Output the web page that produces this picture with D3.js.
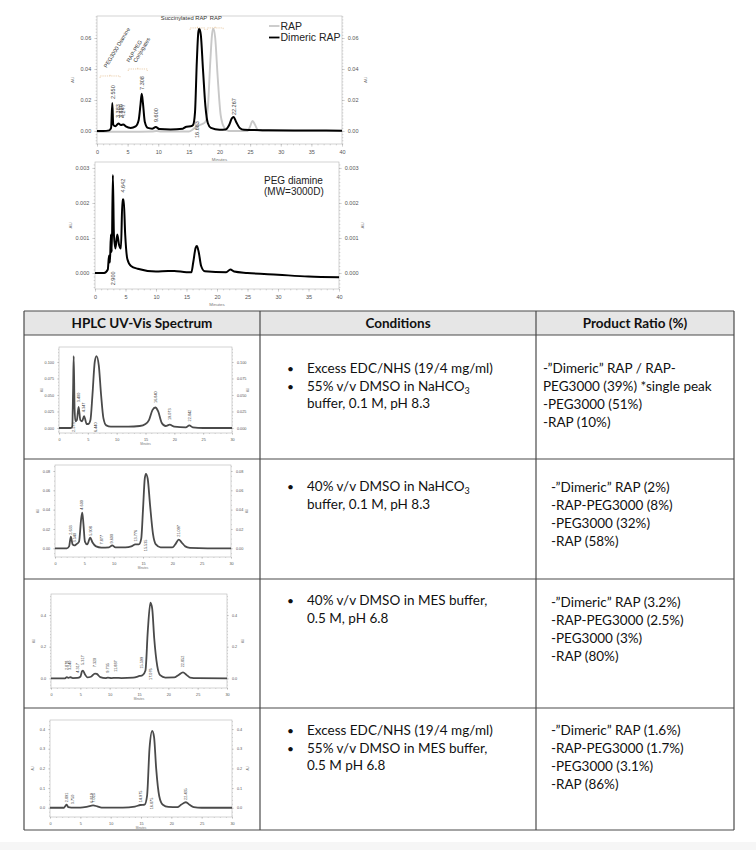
<!DOCTYPE html>
<html>
<head>
<meta charset="utf-8">
<script src="https://cdn.jsdelivr.net/npm/d3@7"></script>
<style>
body { margin: 0; background: #fff; }
svg { display: block; }
</style>
</head>
<body>
<div id="main"></div>
<script>
// ---------- data ----------
var minutes40 = [0, 5, 10, 15, 20, 25, 30, 35, 40];
var minutes30 = [0, 5, 10, 15, 20, 25, 30];

// top chart: RAP vs dimeric RAP (minutes, AU)
var rapTrace = [[0,-0.0005],[5,-0.0005],[9,-0.0003],[9.7,0],[10.5,-0.0003],[15,-0.0003],[15.8,0.0015],[16.5,0.0035],[17.2,0.0045],[17.7,0.006],[18.1,0.015],[18.5,0.045],[18.8,0.063],[19.0,0.066],[19.3,0.06],[19.7,0.035],[20.2,0.01],[20.8,0.002],[21.5,0],[24.6,0],[25,0.003],[25.4,0.0065],[25.8,0.004],[26.3,0.0005],[27,0],[40,0]];
var dimericTrace = [[0,0],[1,0],[2,0.0004],[2.3,0.002],[2.5,0.018],[2.65,0.004],[3,0.003],[3.5,0.0048],[3.9,0.0038],[4.3,0.0042],[4.7,0.003],[5.5,0.002],[6.3,0.003],[6.8,0.007],[7.1,0.017],[7.3,0.024],[7.5,0.018],[7.8,0.006],[8.3,0.002],[9,0.0015],[9.6,0.0025],[10.2,0.0012],[12,0.001],[14,0.0015],[14.6,0.0028],[15.3,0.003],[15.7,0.004],[16.0,0.012],[16.3,0.045],[16.55,0.064],[16.7,0.066],[16.95,0.062],[17.3,0.04],[17.7,0.016],[18.1,0.005],[18.6,0.002],[20,0.0008],[21,0.001],[21.6,0.004],[22.0,0.008],[22.3,0.009],[22.7,0.006],[23.3,0.002],[24,0.0008],[28,0.0005],[35,0.0003],[40,0.0002]];
var dimericPeaks = [[2.55,0.0206,"2.550"],[3.5,0.0084,"3.383"],[3.9,0.0084,"3.880"],[4.3,0.0084,"4.247"],[7.3,0.0265,"7.308"],[9.6,0.0058,"9.600"],[16.3,-0.0045,"16.683"],[22.3,0.0103,"22.267"]];
var topLegend = ["RAP", "Dimeric RAP"];

// second chart: PEG diamine
var pegTrace = [[0,0],[1.5,0],[2.1,0.0001],[2.3,0.0005],[2.45,0.0003],[2.6,0.0011],[2.75,0.0006],[2.93,0.0028],[3.1,0.0011],[3.35,0.0007],[3.65,0.0011],[3.95,0.0008],[4.25,0.0007],[4.5,0.0021],[4.7,0.0021],[4.95,0.0011],[5.3,0.0004],[5.9,0.0002],[7,0.00012],[10,0.00004],[12,0.00006],[13,0.00006],[15,0.00002],[15.8,0.00002],[16.1,0.0003],[16.5,0.00072],[16.7,0.00077],[17.0,0.0006],[17.4,0.0002],[18,0.00005],[21.5,0.00002],[22.2,0.0001],[22.8,0.00004],[25,0],[30,-0.00005],[35,-0.0001],[40,-0.00012]];
var pegPeaks = [[4.6,0.0023,"4.642"],[2.9,-0.00035,"2.900"]];

// table rows
var headers = ["HPLC UV-Vis Spectrum", "Conditions", "Product Ratio (%)"];
var conditions = [
  [["Excess EDC/NHS (19/4 mg/ml)"], ["55% v/v DMSO in NaHCO", "3", "", "buffer, 0.1 M, pH 8.3"]],
  [["40% v/v DMSO in NaHCO", "3", "", "buffer, 0.1 M, pH 8.3"]],
  [["40% v/v DMSO in MES buffer,", "", "", "0.5 M, pH 6.8"]],
  [["Excess EDC/NHS (19/4 mg/ml)"], ["55% v/v DMSO in MES buffer,", "", "", "0.5 M pH 6.8"]]
];
var ratios = [
  ["-\u201DDimeric\u201D RAP / RAP-", "PEG3000 (39%) *single peak", "-PEG3000 (51%)", "-RAP (10%)"],
  ["-\u201DDimeric\u201D RAP (2%)", "-RAP-PEG3000 (8%)", "-PEG3000 (32%)", "-RAP (58%)"],
  ["-\u201DDimeric\u201D RAP (3.2%)", "-RAP-PEG3000 (2.5%)", "-PEG3000 (3%)", "-RAP (80%)"],
  ["-\u201DDimeric\u201D RAP (1.6%)", "-RAP-PEG3000 (1.7%)", "-PEG3000 (3.1%)", "-RAP (86%)"]
];

var row1Trace = [[0,0],[2,0],[2.3,0.002],[2.45,0.06],[2.55,0.109],[2.7,0.03],[2.85,0.01],[3.1,0.012],[3.4,0.032],[3.7,0.012],[4.0,0.01],[4.35,0.018],[4.8,0.006],[5.1,0.006],[5.45,0.012],[5.8,0.05],[6.2,0.1],[6.5,0.109],[6.9,0.095],[7.3,0.05],[7.7,0.015],[8.2,0.004],[9,0.002],[12,0.002],[14,0.003],[15,0.006],[15.6,0.012],[16.2,0.027],[16.7,0.031],[17.2,0.025],[17.8,0.008],[18.5,0.003],[19.2,0.005],[20,0.002],[22,0.001],[22.6,0.004],[23.2,0.001],[25,0],[30,0]];
var row1Peaks = [[3.4,0.039,"3.400"],[4.35,0.024,"4.347"],[2.5,-0.006,"2.573"],[6.4,-0.006,"6.440"],[16.7,0.038,"16.840"],[19.2,0.012,"19.073"],[22.6,0.01,"22.842"]];
var row1YTicks = [0, 0.025, 0.05, 0.075, 0.1];

var row2Trace = [[0,0],[2,0],[2.4,0.002],[2.7,0.012],[3.0,0.004],[3.3,0.003],[3.6,0.004],[4.1,0.007],[4.45,0.03],[4.65,0.037],[4.85,0.025],[5.1,0.007],[5.5,0.004],[6.0,0.011],[6.4,0.006],[7,0.002],[7.9,0.0008],[9.2,0.001],[9.75,0.003],[10.3,0.001],[12,0.001],[13,0.002],[13.7,0.004],[14.3,0.004],[14.7,0.01],[15.0,0.04],[15.3,0.072],[15.5,0.077],[15.8,0.072],[16.2,0.045],[16.7,0.015],[17.2,0.004],[18,0.001],[20,0.001],[20.5,0.004],[21.1,0.009],[21.6,0.006],[22.2,0.002],[23,0.0005],[26,0],[30,0]];
var row2Peaks = [[2.7,0.014,"2.633"],[3.4,0.006,"3.540"],[4.6,0.04,"4.600"],[6.0,0.013,"5.908"],[7.9,0.004,"7.877"],[9.7,0.005,"9.600"],[13.8,0.007,"13.776"],[15.5,-0.003,"15.535"],[21.1,0.012,"21.097"]];
var row2YTicks = [0, 0.02, 0.04, 0.06, 0.08];

var row3Trace = [[0,0],[2.4,0],[2.7,0.008],[3.0,0.003],[3.3,0.007],[3.7,0.002],[4.5,0.003],[5.0,0.01],[5.3,0.045],[5.45,0.048],[5.8,0.025],[6.2,0.006],[6.8,0.01],[7.5,0.03],[7.8,0.028],[8.4,0.008],[9.3,0.002],[9.7,0.004],[10.3,0.002],[11.1,0.003],[12,0.002],[14,0.005],[15.1,0.015],[15.6,0.02],[16.1,0.05],[16.5,0.3],[16.95,0.478],[17.25,0.44],[17.6,0.25],[18.1,0.08],[18.6,0.02],[19.5,0.005],[21,0.006],[21.7,0.02],[22.5,0.038],[23.1,0.022],[23.7,0.005],[25,0.001],[30,0]];
var row3Peaks = [[2.7,0.052,"2.878"],[3.2,0.052,"3.240"],[4.5,0.036,"4.317"],[5.4,0.085,"5.317"],[7.5,0.07,"7.320"],[9.7,0.036,"9.735"],[11.1,0.042,"11.887"],[15.5,0.062,"15.599"],[17.0,-0.01,"17.076"],[22.5,0.07,"22.852"]];
var row3YTicks = [0, 0.2, 0.4];

var row4Trace = [[0,0],[2.3,0],[2.55,0.01],[2.75,0.016],[3.0,0.003],[3.5,0.001],[5,0.001],[6.2,0.006],[7.1,0.012],[7.8,0.007],[8.5,0.001],[12,0.001],[14,0.006],[14.9,0.014],[15.6,0.016],[16.0,0.06],[16.4,0.3],[16.85,0.39],[17.15,0.36],[17.5,0.2],[18,0.06],[18.6,0.015],[19.5,0.004],[21,0.003],[21.6,0.015],[22.4,0.028],[23,0.015],[23.7,0.003],[25,0],[30,0]];
var row4Peaks = [[2.7,0.028,"2.891"],[3.7,0.018,"3.750"],[6.9,0.026,"6.819"],[7.2,0.026,"7.025"],[15.0,0.028,"14.975"],[16.8,-0.008,"16.875"],[22.4,0.04,"22.435"]];
var row4YTicks = [0, 0.1, 0.2, 0.3, 0.4];

// ---------- drawing ----------
var W = 756, H = 850;
var svg = d3.select("#main").append("svg").attr("width", W).attr("height", H);
svg.append("rect").attr("width", W).attr("height", H).attr("fill", "#fff");
svg.append("rect").attr("x", 0).attr("y", 842).attr("width", W).attr("height", 8).attr("fill", "#f6f6f6");

var chartFont = "Liberation Sans, Arial, sans-serif";
var tableFont = "Lato, Open Sans, sans-serif";

function chrom(box, xDom, yDom, xTicks, yTicks, yFmt, fs) {
  var x = d3.scaleLinear().domain(xDom).range([box[0], box[2]]);
  var y = d3.scaleLinear().domain(yDom).range([box[3], box[1]]);
  var g = svg.append("g").attr("font-family", chartFont);
  g.append("rect").attr("x", box[0]).attr("y", box[1])
    .attr("width", box[2] - box[0]).attr("height", box[3] - box[1])
    .attr("fill", "none").attr("stroke", "#b5b5b5").attr("stroke-width", 0.6);

  var axes = [
    [d3.axisLeft(y).tickValues(yTicks).tickFormat(yFmt).tickSize(fs * 0.5), "translate(" + box[0] + ",0)"],
    [d3.axisRight(y).tickValues(yTicks).tickFormat(yFmt).tickSize(fs * 0.5), "translate(" + box[2] + ",0)"],
    [d3.axisBottom(x).tickValues(xTicks).tickFormat(d3.format("d")).tickSize(fs * 0.5), "translate(0," + box[3] + ")"],
    [d3.axisLeft(y).ticks(30).tickFormat("").tickSize(fs * 0.25), "translate(" + box[0] + ",0)"],
    [d3.axisRight(y).ticks(30).tickFormat("").tickSize(fs * 0.25), "translate(" + box[2] + ",0)"],
    [d3.axisBottom(x).ticks(40).tickFormat("").tickSize(fs * 0.25), "translate(0," + box[3] + ")"]
  ];
  axes.forEach(function(a) {
    var ag = g.append("g").attr("transform", a[1]).call(a[0]);
    ag.select(".domain").remove();
    ag.selectAll("line").attr("stroke", "#999").attr("stroke-width", 0.4);
    ag.selectAll("text").attr("font-size", fs).attr("fill", "#555").attr("font-family", chartFont);
  });
  // axis titles
  g.append("text").attr("x", (box[0] + box[2]) / 2).attr("y", box[3] + fs * 3.1)
    .attr("text-anchor", "middle").attr("font-size", fs * 0.8).attr("fill", "#777").text("Minutes");
  [box[0] - fs * 4.2, box[2] + fs * 4.6].forEach(function(px) {
    g.append("text").attr("transform", "translate(" + px + "," + (box[1] + box[3]) / 2 + ") rotate(-90)")
      .attr("text-anchor", "middle").attr("font-size", fs * 0.8).attr("fill", "#777").text("AU");
  });
  return { x: x, y: y, g: g };
}

function trace(p, pts, color, w) {
  p.g.append("path").datum(pts)
    .attr("fill", "none").attr("stroke", color).attr("stroke-width", w)
    .attr("stroke-linejoin", "round")
    .attr("d", d3.line().x(function(d) { return p.x(d[0]); }).y(function(d) { return p.y(d[1]); }).curve(d3.curveMonotoneX));
}

function peakLabels(p, list, fs) {
  p.g.selectAll(null).data(list).enter().append("text")
    .attr("transform", function(d) { return "translate(" + (p.x(d[0]) + fs * 0.35) + "," + p.y(d[1]) + ") rotate(-90)"; })
    .attr("font-size", fs).attr("fill", "#444").text(function(d) { return d[2]; });
}

function bracket(p, t0, t1, v) {
  var yy = p.y(v), xa = p.x(t0), xb = p.x(t1);
  p.g.append("path")
    .attr("d", "M" + xa + "," + (yy + 2) + "V" + yy + "H" + xb + "V" + (yy + 2) + "M" + (xa + xb) / 2 + "," + yy + "v-2")
    .attr("fill", "none").attr("stroke", "#e6c49a").attr("stroke-width", 0.8).attr("stroke-dasharray", "1.2,1");
}

// top chart
var top1 = chrom([97, 16, 342, 144], [0, 40], [-0.0084, 0.0742], minutes40, [0, 0.02, 0.04, 0.06], d3.format(".2f"), 5.5);
trace(top1, rapTrace, "#c8c8c8", 1.9);
trace(top1, dimericTrace, "#000", 2);
peakLabels(top1, dimericPeaks, 5.5);
bracket(top1, 0.5, 3.75, 0.0355);
bracket(top1, 5.1, 8.2, 0.040);
bracket(top1, 15.2, 17.6, 0.0665);
bracket(top1, 18.0, 20.6, 0.0665);
top1.g.append("text").attr("transform", "translate(" + top1.x(1.6) + "," + top1.y(0.0405) + ") rotate(-59)")
  .attr("font-size", 5.5).attr("fill", "#333").text("PEG3000 Diamine");
top1.g.append("text").attr("transform", "translate(" + top1.x(5.3) + "," + top1.y(0.044) + ") rotate(-59)")
  .attr("font-size", 5.5).attr("fill", "#333").text("RAP-PEG");
top1.g.append("text").attr("transform", "translate(" + top1.x(6.4) + "," + top1.y(0.044) + ") rotate(-59)")
  .attr("font-size", 5.5).attr("fill", "#333").text("Conjugates");
top1.g.append("text").attr("x", top1.x(14.2)).attr("y", top1.y(0.0715)).attr("text-anchor", "middle")
  .attr("font-size", 5.8).attr("fill", "#333").text("Succinylated RAP");
top1.g.append("text").attr("x", top1.x(19.4)).attr("y", top1.y(0.0715)).attr("text-anchor", "middle")
  .attr("font-size", 5.8).attr("fill", "#333").text("RAP");
var legColors = ["#c8c8c8", "#000"];
topLegend.forEach(function(name, i) {
  var ly = 26 + i * 11.5;
  top1.g.append("line").attr("x1", 269).attr("x2", 279.5).attr("y1", ly).attr("y2", ly)
    .attr("stroke", legColors[i]).attr("stroke-width", 1.8);
  top1.g.append("text").attr("x", 280.5).attr("y", ly + 3.6).attr("font-size", 10.5).attr("fill", "#222").text(name);
});

// PEG diamine chart
var top2 = chrom([95, 162, 339, 289], [0, 40], [-0.000457, 0.00317], minutes40, [0, 0.001, 0.002, 0.003], d3.format(".3f"), 5.5);
trace(top2, pegTrace, "#000", 2);
peakLabels(top2, pegPeaks, 5.5);
top2.g.append("text").attr("x", 264).attr("y", 184).attr("font-size", 10).attr("fill", "#222").text("PEG diamine");
top2.g.append("text").attr("x", 264).attr("y", 194.5).attr("font-size", 10).attr("fill", "#222").text("(MW=3000D)");

// ---------- table ----------
var colX = [24, 260, 536, 734];
var rowY = [311, 335, 459, 579, 708, 830];
var tg = svg.append("g").attr("font-family", tableFont);
tg.append("rect").attr("x", colX[0]).attr("y", rowY[0]).attr("width", colX[3] - colX[0]).attr("height", rowY[1] - rowY[0]).attr("fill", "#e6e6e6");
rowY.forEach(function(yv) {
  tg.append("line").attr("x1", colX[0]).attr("x2", colX[3]).attr("y1", yv).attr("y2", yv).attr("stroke", "#4a4a4a").attr("stroke-width", 1.2);
});
colX.forEach(function(xv) {
  tg.append("line").attr("x1", xv).attr("x2", xv).attr("y1", rowY[0]).attr("y2", rowY[5]).attr("stroke", "#4a4a4a").attr("stroke-width", 1.2);
});
headers.forEach(function(h, i) {
  tg.append("text").attr("x", (colX[i] + colX[i + 1]) / 2).attr("y", 328).attr("text-anchor", "middle")
    .attr("font-size", 13.5).attr("font-weight", "bold").attr("fill", "#111").text(h);
});

var condTop = [373, 491, 605, 735];
var ratioTop = [373, 492, 607, 735];
var ratioX = [543, 551, 551, 551];
conditions.forEach(function(items, r) {
  var ln = 0;
  items.forEach(function(it) {
    var yy = condTop[r] + ln * 17.5;
    tg.append("text").attr("x", 287).attr("y", yy).attr("font-size", 12).attr("fill", "#111").text("\u2022");
    var t = tg.append("text").attr("x", 307).attr("y", yy).attr("font-size", 13.5).attr("fill", "#111");
    t.append("tspan").text(it[0]);
    if (it[1]) t.append("tspan").attr("font-size", 9).attr("dy", 3).text(it[1]);
    ln++;
    if (it[3]) {
      tg.append("text").attr("x", 307).attr("y", condTop[r] + ln * 17.5).attr("font-size", 13.5).attr("fill", "#111").text(it[3]);
      ln++;
    }
  });
});
ratios.forEach(function(lines, r) {
  lines.forEach(function(s, i) {
    tg.append("text").attr("x", ratioX[r]).attr("y", ratioTop[r] + i * 18).attr("font-size", 13.5).attr("fill", "#111").text(s);
  });
});

// small chromatograms in the table
var c1 = chrom([59, 347, 232, 433], [0, 30], [-0.0076, 0.1227], minutes30, row1YTicks, d3.format(".3f"), 3.8);
trace(c1, row1Trace, "#4a4a4a", 1.8);
peakLabels(c1, row1Peaks, 3.8);
var c2 = chrom([55, 465, 231, 557], [0, 30], [-0.009, 0.0862], minutes30, row2YTicks, d3.format(".2f"), 3.8);
trace(c2, row2Trace, "#4a4a4a", 1.8);
peakLabels(c2, row2Peaks, 3.8);
var c3 = chrom([51, 594, 227, 688], [0, 30], [-0.061, 0.533], minutes30, row3YTicks, d3.format(".1f"), 3.8);
trace(c3, row3Trace, "#4a4a4a", 1.8);
peakLabels(c3, row3Peaks, 3.8);
var c4 = chrom([50, 720, 232, 817], [0, 30], [-0.047, 0.446], minutes30, row4YTicks, d3.format(".1f"), 3.8);
trace(c4, row4Trace, "#4a4a4a", 1.8);
peakLabels(c4, row4Peaks, 3.8);
</script>
</body>
</html>
